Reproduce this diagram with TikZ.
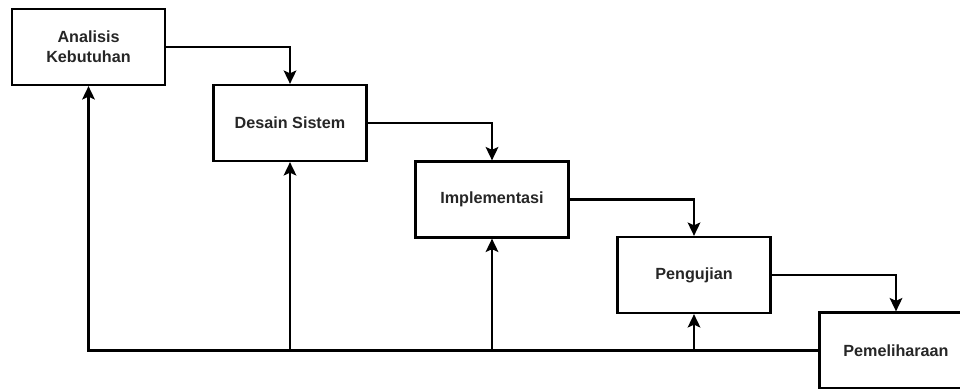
\documentclass[tikz,border=0pt]{standalone}
\usepackage{fontspec}
\setmainfont{Liberation Sans}
\usepackage{tikz}
\usetikzlibrary{arrows.meta}
\tikzset{
    phase/.style={rectangle,draw,line width=1.6pt,minimum width=3.825cm,minimum height=1.9cm,
        inner sep=0pt,align=center,font=\bfseries\fontsize{11.5}{14}\selectfont,text=black!85},
    flow/.style={line width=1.6pt,-{Stealth[length=9.5pt,width=9pt,inset=2pt]}}
}
\begin{document}
\begin{tikzpicture}
    \clip (0,0) rectangle (24,9.7);
    \node[phase] (analisis) at (2.2125,8.525) {Analisis\\Kebutuhan};
    \node[phase] (desain) at (7.25,6.625) {Desain Sistem};
    \node[phase] (implementasi) at (12.3,4.7125) {Implementasi};
    \node[phase] (pengujian) at (17.35,2.825) {Pengujian};
    \node[phase] (pemeliharaan) at (22.4,0.9375) {Pemeliharaan};

    \draw[flow] (analisis.east) -| (desain.north);
    \draw[flow] (desain.east) -| (implementasi.north);
    \draw[flow] (implementasi.east) -| (pengujian.north);
    \draw[flow] (pengujian.east) -| (pemeliharaan.north);

    % umpan balik
    \draw[flow] (pemeliharaan.west) -| (analisis.south);
    \draw[flow] (pemeliharaan.west -| desain.south) -- (desain.south);
    \draw[flow] (pemeliharaan.west -| implementasi.south) -- (implementasi.south);
    \draw[flow] (pemeliharaan.west -| pengujian.south) -- (pengujian.south);
\end{tikzpicture}
\end{document}
